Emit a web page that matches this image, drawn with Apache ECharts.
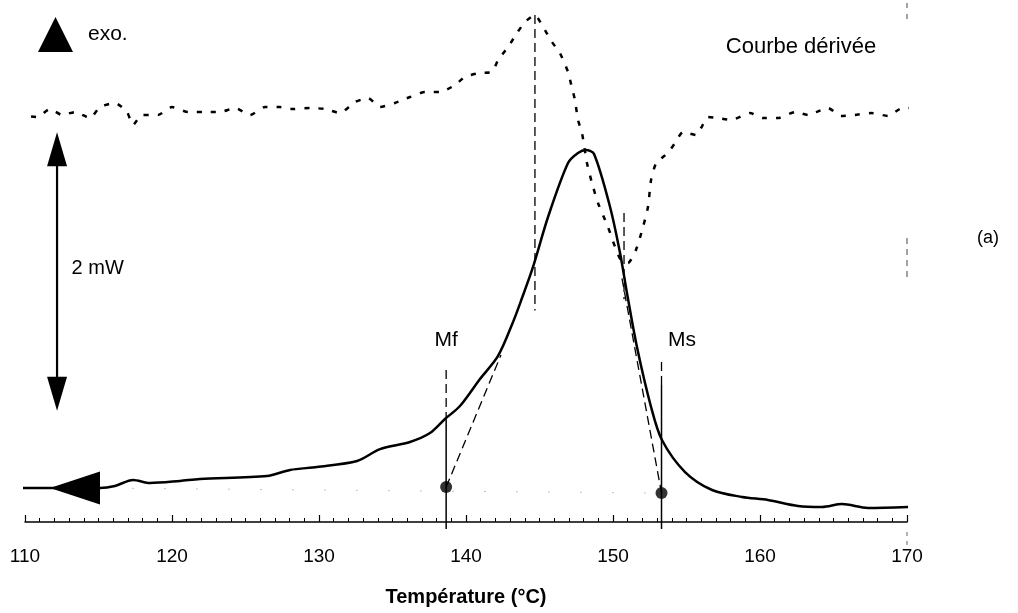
<!DOCTYPE html>
<html>
<head>
<meta charset="utf-8">
<script src="https://cdn.jsdelivr.net/npm/echarts@6/dist/echarts.min.js"></script>
<style>
  html, body { margin: 0; padding: 0; background: #fff; }
  #chart { width: 1018px; height: 613px; }
</style>
</head>
<body>
<div id="chart"></div>
<script>
// DSC cooling run: heat flow (mW, arbitrary zero) against temperature
const dscTemp = [109.46, 115.10, 116.12, 117.35, 118.50, 120.54, 121.90, 126.46, 128.03, 129.86,
  132.59, 134.15, 136.19, 137.55, 138.57, 139.59, 140.95, 142.18, 143.20, 143.81,
  144.56, 145.58, 146.94, 147.62, 148.16, 148.71, 149.80, 150.48, 150.95, 151.63,
  152.59, 153.33, 154.90, 156.74, 158.78, 160.54, 162.59, 164.22, 165.58, 167.35, 170.07];
const dscHeat = [0.244, 0.244, 0.259, 0.302, 0.280, 0.295, 0.309, 0.330, 0.374, 0.395,
  0.438, 0.524, 0.575, 0.639, 0.740, 0.833, 1.027, 1.193, 1.437, 1.609,
  1.832, 2.191, 2.579, 2.651, 2.672, 2.644, 2.263, 1.932, 1.645, 1.257,
  0.826, 0.589, 0.359, 0.230, 0.180, 0.158, 0.115, 0.108, 0.129, 0.101, 0.108];

// Derivative of the heat flow, drawn above the main curve
const derTemp = [109.46, 110.82, 111.70, 112.52, 113.40, 114.42, 115.10, 116.12, 116.94, 117.35,
  117.96, 119.05, 120.00, 121.09, 122.11, 123.27, 124.29, 125.31, 126.33, 127.35,
  128.23, 129.39, 130.41, 131.43, 132.45, 133.33, 134.15, 135.17, 136.19, 137.21,
  138.23, 139.25, 139.93, 140.95, 141.77, 142.18, 142.86, 143.47, 144.01, 144.69,
  145.17, 145.85, 146.39, 146.94, 147.21, 147.41, 147.62, 147.89, 148.23, 148.57,
  148.98, 149.66, 150.14, 150.54, 151.02, 151.56, 152.04, 152.38, 152.59, 152.93,
  153.40, 153.74, 154.22, 154.76, 155.65, 155.99, 156.46, 157.14, 158.03, 159.32,
  160.20, 161.22, 162.38, 163.27, 163.81, 164.63, 165.51, 166.46, 167.55, 168.71,
  169.52, 170.20];
const derValue = [2.924, 2.909, 2.967, 2.924, 2.945, 2.902, 2.981, 3.010, 2.945, 2.852,
  2.924, 2.924, 2.981, 2.945, 2.945, 2.945, 2.974, 2.924, 2.981, 2.981,
  2.967, 2.974, 2.967, 2.938, 3.017, 3.046, 2.981, 3.010, 3.053, 3.089,
  3.089, 3.139, 3.197, 3.226, 3.233, 3.319, 3.412, 3.513, 3.592, 3.642,
  3.570, 3.448, 3.369, 3.233, 3.118, 3.032, 2.888, 2.795, 2.579, 2.435,
  2.292, 2.119, 1.976, 1.882, 1.861, 1.954, 2.119, 2.263, 2.457, 2.579,
  2.622, 2.651, 2.723, 2.802, 2.780, 2.830, 2.909, 2.902, 2.888, 2.938,
  2.902, 2.902, 2.945, 2.924, 2.945, 2.974, 2.917, 2.924, 2.938, 2.917,
  2.967, 2.974];

const xTicks = [110, 120, 130, 140, 150, 160, 170];

// Transformation temperatures and their baseline levels
const Mf = 138.65, Ms = 153.30;
const baseMf = 0.251, baseMs = 0.208;
// Extremes of the derivative and where the tangents meet the peak
const derMaxT = 144.69, derMaxTop = 3.642, derMaxBottom = 1.52;
const derMinT = 150.75, derMinTop = 2.22, derMinBottom = 1.60;
const tangentLeftEnd = [142.38, 1.20];
const tangentRightStart = [150.61, 1.75];
// Scale bar for the heat flow
const scaleBarMW = 2, scaleBarFrom = 0.80, scaleBarT = 112.18;
// Arrow showing the run direction (cooling)
const runArrowT = 113.40, runArrowLevel = 0.244;

const black = '#000';
const font = 'Liberation Sans, Arial, Helvetica, sans-serif';

function seg(a, b, style, name) {
  return {
    type: 'line', name: name, data: [a, b], showSymbol: false, symbol: 'none',
    clip: false, silent: true, z: 1,
    lineStyle: Object.assign({ color: black }, style)
  };
}

const guideDash = { width: 1.3, type: [9, 5] };
const chart = echarts.init(document.getElementById('chart'), null, { renderer: 'canvas' });

chart.setOption({
  animation: false,
  backgroundColor: '#fff',
  grid: { left: 25, right: 111, top: 0, bottom: 91, containLabel: false },
  xAxis: {
    type: 'value', min: xTicks[0], max: xTicks[xTicks.length - 1], interval: 10,
    name: 'Température (°C)', nameLocation: 'middle', nameGap: 65,
    nameTextStyle: { fontFamily: font, fontSize: 20, fontWeight: 'bold', color: black },
    axisLine: { onZero: false, lineStyle: { color: black, width: 1.5 } },
    axisTick: { inside: true, length: 7, lineStyle: { color: black, width: 1.2 } },
    minorTick: { show: true, splitNumber: 10, length: 4, lineStyle: { color: black, width: 1 } },
    axisLabel: { fontFamily: font, fontSize: 19, color: black, margin: 25 },
    splitLine: { show: false }
  },
  yAxis: { type: 'value', min: 0, max: 3.75, show: false },
  graphic: [
    { type: 'polygon', shape: { points: [[38, 52], [73, 52], [55.5, 17]] }, style: { fill: black } },
    { type: 'text', x: 88, y: 34, style: { text: 'exo.', font: '21px ' + font, fill: black, verticalAlign: 'middle' } },
    { type: 'text', x: 801, y: 47, style: { text: 'Courbe dérivée', font: '22px ' + font, fill: black, align: 'center', verticalAlign: 'middle' } },
    { type: 'text', x: 988, y: 238, style: { text: '(a)', font: '18px ' + font, fill: black, align: 'center', verticalAlign: 'middle' } }
  ],
  series: [
    {
      type: 'line', name: 'DSC', showSymbol: false, symbol: 'none', clip: false, z: 3,
      smooth: 0.3,
      data: dscTemp.map((t, i) => [t, dscHeat[i]]),
      lineStyle: { color: black, width: 2.5 },
      markPoint: {
        silent: true,
        data: [{ coord: [runArrowT, runArrowLevel], symbol: 'triangle', symbolRotate: 90, symbolSize: [33, 50] }],
        itemStyle: { color: black }, label: { show: false }
      }
    },
    {
      type: 'line', name: 'Courbe dérivée', showSymbol: false, symbol: 'none', clip: false, z: 3,
      smooth: 0.2,
      data: derTemp.map((t, i) => [t, derValue[i]]),
      lineStyle: { color: black, width: 2.5, type: [5, 9] }
    },
    seg([derMaxT, derMaxTop], [derMaxT, derMaxBottom], guideDash),
    seg([derMinT, derMinTop], [derMinT, derMinBottom], guideDash),
    seg([Mf, baseMf], tangentLeftEnd, guideDash),
    seg(tangentRightStart, [Ms, baseMs], guideDash),
    seg([Mf, 1.092], [Mf, 0.733], guideDash),
    seg([Mf, 0.733], [Mf, -0.05], { width: 1.5 }),
    seg([Ms, 1.149], [Ms, 0.984], guideDash),
    seg([Ms, 0.984], [Ms, -0.05], { width: 1.5 }),
    seg([115.10, 0.244], [Ms, baseMs], { width: 1, color: '#c4c4c4', type: [2, 30] }),
    // scale bar with arrowheads and its value
    {
      type: 'line', name: 'scale', showSymbol: false, symbol: 'none', clip: false, z: 3,
      data: [[scaleBarT, scaleBarFrom + 0.05], [scaleBarT, scaleBarFrom + scaleBarMW - 0.05]],
      lineStyle: { color: black, width: 2.2 },
      markPoint: {
        silent: true, itemStyle: { color: black },
        label: { show: false },
        data: [
          { coord: [scaleBarT, scaleBarFrom + scaleBarMW], symbol: 'triangle', symbolSize: [20, 34], symbolOffset: [0, '50%'] },
          { coord: [scaleBarT, scaleBarFrom], symbol: 'triangle', symbolRotate: 180, symbolSize: [20, 34], symbolOffset: [0, '-50%'] },
          {
            coord: [scaleBarT, scaleBarFrom + scaleBarMW * 0.51], symbol: 'circle', symbolSize: 1,
            itemStyle: { color: 'rgba(0,0,0,0)' },
            label: {
              show: true, position: 'right', distance: 14, color: black, fontFamily: font, fontSize: 20,
              formatter: scaleBarMW + ' mW'
            }
          }
        ]
      }
    },
    {
      type: 'scatter', name: 'points', symbolSize: 12, z: 4, clip: false,
      itemStyle: { color: black },
      data: [[Mf, baseMf], [Ms, baseMs]],
      markPoint: {
        silent: true, symbol: 'circle', symbolSize: 1,
        itemStyle: { color: 'rgba(0,0,0,0)' },
        label: { show: true, position: 'inside', color: black, fontFamily: font, fontSize: 21 },
        data: [
          { coord: [Mf, 1.307], value: 'Mf', label: { formatter: 'Mf' } },
          { coord: [154.69, 1.307], value: 'Ms', label: { formatter: 'Ms' } }
        ]
      }
    },
    // faint vertical trace at the end of the range
    seg([170, 3.728], [170, 3.606], { width: 1, color: '#444', type: [5, 6] }),
    seg([170, 2.040], [170, 1.724], { width: 1, color: '#444', type: [6, 5] }),
    seg([170, -0.072], [170, -0.165], { width: 1, color: '#666', type: [4, 5] })
  ]
});
</script>
</body>
</html>
